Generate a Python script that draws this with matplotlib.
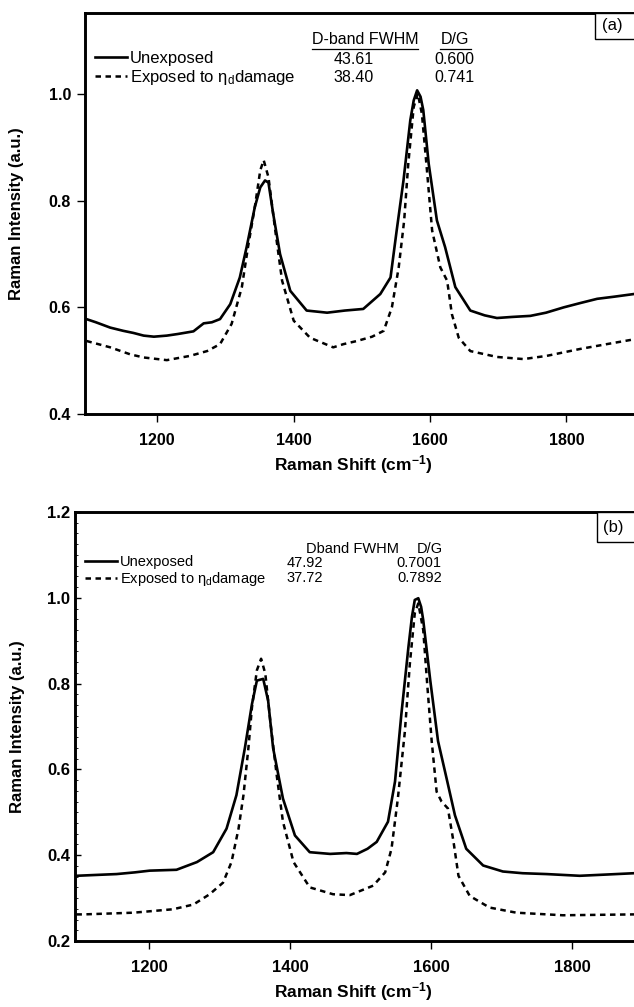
import numpy as np
import matplotlib.pyplot as plt
from matplotlib.ticker import MultipleLocator
from matplotlib.patches import Rectangle

plt.rcParams['font.family'] = ['Liberation Sans', 'DejaVu Sans']
plt.rcParams['mathtext.fontset'] = 'custom'
plt.rcParams['mathtext.rm'] = 'Liberation Sans'
plt.rcParams['mathtext.it'] = 'Liberation Sans:italic'
plt.rcParams['mathtext.bf'] = 'Liberation Sans:bold'

# ---- panel (a) data ----
a_unexp_x = [1096, 1110, 1131, 1150, 1165, 1180, 1195, 1214, 1230, 1253, 1268, 1280, 1292,
             1307, 1321, 1331, 1343, 1351, 1358, 1363, 1370, 1380, 1395, 1419, 1449, 1475,
             1502, 1527, 1542, 1551, 1561, 1571, 1576, 1581, 1586, 1590, 1598, 1610, 1622, 1637, 1659,
             1680, 1698, 1720, 1747, 1770, 1796, 1820, 1845, 1870, 1899]
a_unexp_y = [0.578, 0.572, 0.562, 0.556, 0.552, 0.547, 0.545, 0.547, 0.550, 0.555, 0.570, 0.572, 0.578,
             0.606, 0.656, 0.713, 0.788, 0.825, 0.838, 0.834, 0.775, 0.700, 0.631, 0.594, 0.590, 0.594,
             0.597, 0.625, 0.656, 0.744, 0.838, 0.951, 0.988, 1.007, 0.995, 0.970, 0.869, 0.763, 0.713, 0.638, 0.594,
             0.585, 0.580, 0.582, 0.584, 0.590, 0.600, 0.608, 0.616, 0.620, 0.625]

a_exp_x = [1096, 1131, 1160, 1180, 1214, 1248, 1273, 1292, 1309, 1324, 1333, 1343, 1351, 1356,
           1363, 1373, 1383, 1400, 1424, 1458, 1473, 1493, 1515, 1532, 1544, 1554, 1562, 1568,
           1576, 1582, 1588, 1595, 1603, 1615, 1625, 1632, 1642, 1659, 1698, 1737, 1771, 1820,
           1859, 1899]
a_exp_y = [0.537, 0.525, 0.512, 0.506, 0.501, 0.509, 0.518, 0.531, 0.569, 0.638, 0.713, 0.788, 0.857, 0.876,
           0.844, 0.744, 0.650, 0.575, 0.543, 0.525, 0.531, 0.537, 0.545, 0.556, 0.600, 0.675, 0.763, 0.869,
           0.976, 1.001, 0.963, 0.863, 0.744, 0.675, 0.650, 0.587, 0.543, 0.518, 0.507, 0.503, 0.509, 0.522,
           0.531, 0.540]

# ---- panel (b) data ----
b_unexp_x = [1097, 1125, 1154, 1180, 1201, 1239, 1268, 1291, 1310, 1324, 1336, 1346, 1353, 1362,
             1369, 1376, 1390, 1407, 1428, 1457, 1480, 1495, 1510, 1523, 1539, 1549, 1558, 1568,
             1573, 1577, 1582, 1586, 1589, 1599, 1610, 1622, 1634, 1650, 1674, 1702, 1730, 1764, 1811, 1850, 1888]
b_unexp_y = [0.352, 0.354, 0.356, 0.360, 0.364, 0.366, 0.384, 0.407, 0.462, 0.540, 0.650, 0.752, 0.807, 0.811,
             0.760, 0.650, 0.532, 0.446, 0.407, 0.403, 0.405, 0.403, 0.415, 0.431, 0.478, 0.572, 0.729, 0.885,
             0.956, 0.995, 0.999, 0.979, 0.948, 0.807, 0.666, 0.580, 0.493, 0.415, 0.376, 0.362, 0.358, 0.356, 0.352, 0.355, 0.358]

b_exp_x = [1097, 1107, 1178, 1234, 1263, 1286, 1305, 1317, 1327, 1334, 1341, 1346, 1353, 1359,
           1365, 1372, 1381, 1390, 1405, 1428, 1461, 1485, 1518, 1535, 1544, 1553, 1563, 1570,
           1577, 1582, 1589, 1595, 1601, 1608, 1615, 1624, 1632, 1639, 1655, 1683, 1721, 1787, 1888]
b_exp_y = [0.262, 0.262, 0.266, 0.274, 0.285, 0.309, 0.336, 0.384, 0.462, 0.540, 0.650, 0.744, 0.831, 0.858,
           0.823, 0.713, 0.588, 0.478, 0.384, 0.325, 0.309, 0.307, 0.329, 0.360, 0.415, 0.532, 0.689, 0.846,
           0.964, 0.987, 0.925, 0.791, 0.666, 0.548, 0.525, 0.509, 0.431, 0.352, 0.305, 0.278, 0.266, 0.260, 0.262]

labels = ['Unexposed', r'Exposed to $\mathregular{\eta_d}$damage']
a_header = ['D-band FWHM', 'D/G']
a_fwhm = ['43.61', '38.40']
a_dg = ['0.600', '0.741']
b_header = ['Dband FWHM', 'D/G']
b_fwhm = ['47.92', '37.72']
b_dg = ['0.7001', '0.7892']
xticks = [1200, 1400, 1600, 1800]

W, H = 634, 1007
fig = plt.figure(figsize=(W / 100, H / 100), dpi=100)


def px_axes(l, r, t, b):
    return fig.add_axes([l / W, 1 - b / H, (r - l) / W, (b - t) / H])


def style(ax, yin, tsize):
    for s in ['left', 'top', 'bottom']:
        ax.spines[s].set_linewidth(2.1)
    ax.spines['right'].set_visible(False)
    ax.set_xticks(xticks)
    ax.tick_params(axis='x', direction='out', length=6, width=1, pad=8, labelsize=tsize)
    if yin:
        ax.tick_params(axis='y', direction='in', length=4, width=1, pad=3.5, labelsize=tsize)
    else:
        ax.tick_params(axis='y', direction='out', length=6, width=1, pad=4, labelsize=tsize)
    for t in ax.get_xticklabels() + ax.get_yticklabels():
        t.set_fontweight('bold')
    ax.set_xlabel(r'Raman Shift (cm$\mathregular{^{-1}}$)', fontsize=12.5, fontweight='bold')
    ax.set_ylabel('Raman Intensity (a.u.)', fontsize=12, fontweight='bold')


def tag(ax, x0, y0, tx, ty, s):
    ax.add_patch(Rectangle((x0, y0), 0.2, 1 - y0, transform=ax.transAxes, fill=True,
                           fc='white', ec='black', lw=1.0, clip_on=False, zorder=5))
    ax.text(tx, ty, s, transform=ax.transAxes, ha='left', va='center', fontsize=12, zorder=6)


dash = (2.2, 1.8)

# panel (a)
ax1 = px_axes(85, 634, 13, 414)
l1, = ax1.plot(a_unexp_x, a_unexp_y, color='black', lw=1.9)
l2, = ax1.plot(a_exp_x, a_exp_y, color='black', lw=1.8, dashes=dash)
ax1.set_xlim(1094, 1899)
ax1.set_ylim(0.4, 1.152)
ax1.set_yticks([0.4, 0.6, 0.8, 1.0])
style(ax1, False, 11.5)
ax1.xaxis.set_label_coords(0.488, -0.097)
ax1.yaxis.set_label_coords(-0.112, 0.5)
ax1.legend([l1, l2], labels, loc='upper left', bbox_to_anchor=(0.018, 0.905), frameon=False,
           borderpad=0, borderaxespad=0, handlelength=1.9, handletextpad=0.2,
           labelspacing=0.1, fontsize=12)
ax1.text(0.510, 0.935, a_header[0], transform=ax1.transAxes, ha='center', va='center', fontsize=11.5)
ax1.text(0.674, 0.935, a_header[1], transform=ax1.transAxes, ha='center', va='center', fontsize=11.5)
ax1.plot([0.413, 0.607], [0.910, 0.910], transform=ax1.transAxes, color='black', lw=0.9)
ax1.plot([0.647, 0.703], [0.910, 0.910], transform=ax1.transAxes, color='black', lw=0.9)
for i, yy in enumerate([0.884, 0.840]):
    ax1.text(0.490, yy, a_fwhm[i], transform=ax1.transAxes, ha='center', va='center', fontsize=11.5)
    ax1.text(0.673, yy, a_dg[i], transform=ax1.transAxes, ha='center', va='center', fontsize=11.5)
tag(ax1, 0.929, 0.935, 0.942, 0.968, '(a)')

# panel (b)
ax2 = px_axes(75, 634, 512, 941)
m1, = ax2.plot(b_unexp_x, b_unexp_y, color='black', lw=1.9)
m2, = ax2.plot(b_exp_x, b_exp_y, color='black', lw=1.8, dashes=dash)
ax2.set_xlim(1095, 1888)
ax2.set_ylim(0.2, 1.2)
ax2.set_yticks([0.2, 0.4, 0.6, 0.8, 1.0, 1.2])
ax2.yaxis.set_minor_locator(MultipleLocator(0.025))
ax2.tick_params(axis='y', which='minor', direction='in', length=2, width=0.6)
style(ax2, True, 12)
ax2.xaxis.set_label_coords(0.497, -0.090)
ax2.yaxis.set_label_coords(-0.090, 0.5)
ax2.legend([m1, m2], labels, loc='upper left', bbox_to_anchor=(0.018, 0.900), frameon=False,
           borderpad=0, borderaxespad=0, handlelength=2.2, handletextpad=0.2,
           labelspacing=0.05, fontsize=10.5)
ax2.text(0.496, 0.914, b_header[0], transform=ax2.transAxes, ha='center', va='center', fontsize=10.5)
ax2.text(0.635, 0.914, b_header[1], transform=ax2.transAxes, ha='center', va='center', fontsize=10.5)
for i, yy in enumerate([0.881, 0.846]):
    ax2.text(0.411, yy, b_fwhm[i], transform=ax2.transAxes, ha='center', va='center', fontsize=10.5)
    ax2.text(0.616, yy, b_dg[i], transform=ax2.transAxes, ha='center', va='center', fontsize=10.5)
tag(ax2, 0.934, 0.930, 0.945, 0.965, '(b)')

fig.savefig('out.png', dpi=100)
